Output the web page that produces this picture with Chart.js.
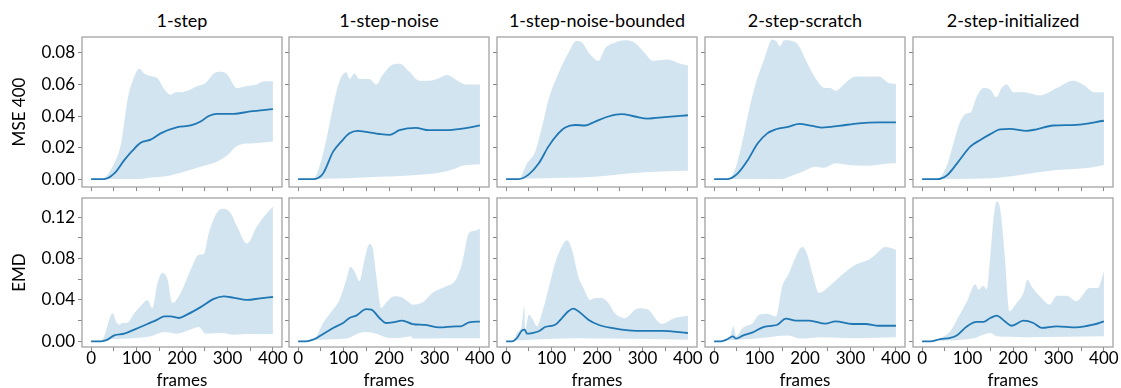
<!DOCTYPE html>
<html>
<head>
<meta charset="utf-8">
<script src="https://cdn.jsdelivr.net/npm/chart.js@4.4.1/dist/chart.umd.min.js"></script>
<style>
  html, body { margin: 0; padding: 0; background: #fff; }
  #fig { position: relative; width: 1121px; height: 388px; overflow: hidden; font-family: Lato, sans-serif; }
  .panel { position: absolute; }
  .title { position: absolute; width: 200px; height: 20px; line-height: 20px; text-align: center; font-size: 18px; color: #000; white-space: nowrap; }
</style>
</head>
<body>
<div id="fig"></div>
<script>
// ---- data (frame, value) ----
const methods = ['1-step', '1-step-noise', '1-step-noise-bounded', '2-step-scratch', '2-step-initialized'];
const metrics = ['MSE 400', 'EMD'];

const xTicks = [0, 50, 100, 150, 200, 250, 300, 350, 400];
const xLabels = [0, 100, 200, 300, 400];
const mseTicks = [0, 0.02, 0.04, 0.06, 0.08];
const mseLabels = [0, 0.02, 0.04, 0.06, 0.08];
const emdTicks = [0, 0.02, 0.04, 0.06, 0.08, 0.10, 0.12];
const emdLabels = [0, 0.04, 0.08, 0.12];

// MSE 400
const mse1stepMean = [[0,0],[29,0],[51,0.0036],[73,0.012],[91,0.018],[109,0.023],[131,0.025],[153,0.029],[190,0.033],[219,0.034],[241,0.0365],[259,0.040],[277,0.0414],[314,0.0414],[350,0.0429],[400,0.0444]];
const mse1stepUpper = [[0,0],[22,0],[51,0.010],[66,0.0227],[80,0.050],[95,0.065],[106,0.070],[117,0.067],[135,0.065],[146,0.064],[161,0.057],[175,0.0535],[186,0.055],[197,0.055],[212,0.056],[234,0.059],[252,0.061],[270,0.067],[285,0.068],[299,0.0665],[321,0.0577],[343,0.059],[365,0.060],[380,0.062],[400,0.062]];
const mse1stepLower = [[0,0],[102,0],[131,0.001],[168,0.002],[204,0.0047],[241,0.0079],[277,0.011],[299,0.015],[325,0.0216],[358,0.0227],[400,0.0238]];

const mseNoiseMean = [[0,0],[33,0],[55,0.0036],[77,0.0174],[95,0.0238],[113,0.029],[131,0.0306],[150,0.030],[179,0.0286],[201,0.028],[223,0.031],[259,0.0325],[288,0.031],[325,0.031],[361,0.032],[400,0.034]];
const mseNoiseUpper = [[0,0],[33,0],[47,0.008],[62,0.025],[77,0.046],[91,0.062],[106,0.0677],[113,0.0635],[124,0.067],[135,0.0635],[157,0.0635],[172,0.060],[186,0.066],[208,0.0726],[223,0.0732],[245,0.068],[266,0.0624],[288,0.0624],[310,0.064],[328,0.066],[347,0.063],[369,0.060],[400,0.060]];
const mseNoiseLower = [[0,0],[106,0.0005],[179,0.0015],[252,0.0025],[310,0.004],[347,0.0068],[361,0.0085],[400,0.0095]];

const mseBoundedMean = [[0,0],[28,0],[50,0.003],[72,0.010],[93,0.0206],[115,0.029],[130,0.0327],[152,0.0343],[174,0.034],[196,0.0365],[225,0.0397],[254,0.0412],[283,0.0397],[312,0.0384],[349,0.0393],[400,0.0405]];
const mseBoundedUpper = [[0,0],[28,0],[46,0.010],[64,0.0174],[79,0.033],[93,0.050],[115,0.067],[137,0.080],[155,0.0875],[166,0.0868],[185,0.079],[203,0.075],[218,0.083],[239,0.0865],[261,0.088],[283,0.0865],[305,0.080],[323,0.075],[356,0.0758],[378,0.0736],[400,0.072]];
const mseBoundedLower = [[0,0],[123,0.0008],[196,0.0015],[269,0.0036],[342,0.0049],[400,0.0053]];

const mseScratchMean = [[0,0],[30,0],[52,0.0036],[74,0.012],[96,0.0227],[117,0.029],[136,0.0316],[165,0.0333],[187,0.035],[216,0.0337],[238,0.0327],[274,0.0337],[318,0.0354],[362,0.036],[400,0.036]];
const mseScratchUpper = [[0,0],[30,0],[48,0.0079],[63,0.025],[77,0.044],[92,0.061],[110,0.0758],[128,0.0885],[136,0.0875],[145,0.0843],[154,0.088],[172,0.0875],[187,0.0843],[201,0.0758],[223,0.064],[242,0.058],[256,0.0577],[267,0.056],[289,0.061],[311,0.065],[340,0.065],[362,0.065],[384,0.061],[400,0.0605]];
const mseScratchLower = [[0,0],[150,0],[165,0.0015],[194,0.0047],[223,0.0079],[242,0.0072],[267,0.010],[296,0.0089],[333,0.0085],[369,0.0095],[400,0.010]];

const mseInitMean = [[0,0],[33,0],[55,0.0025],[77,0.010],[106,0.0206],[128,0.0248],[150,0.0285],[172,0.0316],[193,0.0318],[230,0.0306],[252,0.0316],[288,0.034],[339,0.0344],[400,0.037]];
const mseInitUpper = [[0,0],[33,0],[55,0.009],[69,0.0227],[84,0.0365],[99,0.0418],[106,0.042],[120,0.052],[135,0.0577],[150,0.0567],[164,0.052],[175,0.0577],[186,0.060],[201,0.055],[223,0.055],[259,0.053],[296,0.0577],[332,0.0624],[354,0.060],[380,0.055],[400,0.055]];
const mseInitLower = [[0,0],[150,0.0005],[223,0.003],[296,0.0057],[369,0.0072],[400,0.009]];

// EMD
const emd1stepMean = [[0,0],[22,0],[36,0.0016],[51,0.0058],[73,0.0074],[95,0.0113],[124,0.0167],[146,0.021],[161,0.024],[175,0.024],[193,0.0225],[212,0.026],[241,0.033],[270,0.041],[292,0.0434],[314,0.042],[343,0.040],[372,0.0415],[400,0.0428]];
const emd1stepUpper = [[0,0],[15,0],[29,0.005],[40,0.021],[47,0.027],[55,0.019],[62,0.016],[69,0.0177],[80,0.018],[95,0.027],[109,0.034],[124,0.040],[135,0.032],[146,0.056],[157,0.066],[168,0.060],[179,0.037],[197,0.0467],[219,0.069],[237,0.0837],[248,0.0843],[259,0.1046],[274,0.122],[288,0.128],[307,0.124],[321,0.111],[343,0.0943],[365,0.111],[387,0.124],[400,0.130]];
const emd1stepLower = [[0,0],[44,0.002],[95,0.003],[131,0.0048],[161,0.009],[190,0.0074],[219,0.0113],[237,0.0138],[252,0.0074],[285,0.008],[314,0.0064],[350,0.0071],[400,0.0071]];

const emdNoiseMean = [[0,0],[18,0],[33,0.0016],[47,0.0048],[77,0.0129],[99,0.0177],[113,0.0225],[128,0.0248],[150,0.031],[161,0.0306],[179,0.0225],[193,0.0177],[208,0.0183],[229,0.020],[252,0.0167],[281,0.0158],[310,0.0135],[347,0.0145],[358,0.0145],[376,0.0183],[400,0.019]];
const emdNoiseUpper = [[0,0],[18,0.001],[40,0.0048],[55,0.0177],[77,0.0306],[91,0.040],[106,0.0595],[115,0.0717],[124,0.0676],[135,0.058],[146,0.0788],[157,0.094],[164,0.090],[172,0.063],[183,0.032],[193,0.037],[212,0.0434],[226,0.0428],[241,0.0386],[252,0.0354],[274,0.0376],[296,0.047],[325,0.053],[347,0.0595],[361,0.0756],[376,0.1046],[391,0.107],[400,0.109]];
const emdNoiseLower = [[0,0],[47,0.0016],[106,0.0026],[135,0.008],[150,0.009],[172,0.0074],[201,0.0032],[237,0.004],[248,0.0048],[252,0.0026],[325,0.003],[400,0.003]];

const emdBoundedMean = [[0,0],[13,0],[24,0.0032],[35,0.0106],[41,0.0113],[46,0.0074],[57,0.008],[72,0.0097],[86,0.0138],[108,0.016],[123,0.0225],[137,0.029],[148,0.0315],[159,0.029],[181,0.0209],[203,0.016],[232,0.0129],[269,0.0106],[305,0.010],[342,0.010],[400,0.008]];
const emdBoundedUpper = [[0,0],[13,0],[24,0.008],[35,0.016],[40,0.0338],[42,0.0113],[50,0.0257],[57,0.0225],[68,0.0145],[79,0.0273],[93,0.050],[108,0.0756],[123,0.0917],[134,0.0975],[145,0.0885],[159,0.0627],[170,0.0515],[185,0.040],[196,0.0418],[210,0.0418],[225,0.037],[239,0.0273],[261,0.0225],[291,0.032],[312,0.0306],[342,0.0167],[371,0.0225],[400,0.0248]];
const emdBoundedLower = [[0,0],[86,0.0022],[159,0.003],[232,0.0026],[400,0.0016]];

const emdScratchMean = [[0,0],[15,0],[30,0.0022],[41,0.0048],[48,0.0026],[63,0.0055],[85,0.0087],[107,0.0135],[125,0.015],[139,0.016],[158,0.0219],[180,0.020],[209,0.020],[245,0.017],[267,0.0193],[304,0.0167],[333,0.0167],[362,0.015],[400,0.015]];
const emdScratchUpper = [[0,0],[19,0],[34,0.0032],[43,0.0145],[48,0.0048],[63,0.0129],[85,0.0177],[99,0.0257],[117,0.0267],[136,0.024],[150,0.053],[165,0.066],[180,0.082],[194,0.091],[205,0.0837],[216,0.066],[231,0.0467],[253,0.053],[282,0.0644],[311,0.074],[340,0.0788],[355,0.0837],[377,0.091],[400,0.0885]];
const emdScratchLower = [[0,0],[92,0.0026],[165,0.0055],[187,0.0026],[238,0.004],[311,0.003],[400,0.0039]];

const emdInitMean = [[0,0],[18,0],[40,0.0022],[62,0.0032],[77,0.0058],[99,0.0145],[120,0.0187],[135,0.0187],[150,0.0225],[164,0.0248],[182,0.0193],[197,0.015],[223,0.020],[245,0.0177],[263,0.0129],[296,0.0145],[339,0.0135],[376,0.016],[400,0.0193]];
const emdInitUpper = [[0,0],[18,0],[40,0.003],[62,0.0097],[77,0.021],[99,0.0386],[117,0.055],[124,0.050],[135,0.0537],[142,0.050],[150,0.082],[157,0.1174],[164,0.135],[172,0.127],[182,0.082],[192,0.029],[208,0.037],[223,0.0467],[232,0.0595],[241,0.053],[259,0.0434],[281,0.0354],[296,0.044],[318,0.044],[339,0.0386],[369,0.0515],[387,0.0515],[400,0.0676]];
const emdInitLower = [[0,0],[113,0.003],[150,0.008],[164,0.0048],[223,0.004],[400,0.0048]];

const series = [
  [
    [mse1stepMean, mse1stepLower, mse1stepUpper],
    [mseNoiseMean, mseNoiseLower, mseNoiseUpper],
    [mseBoundedMean, mseBoundedLower, mseBoundedUpper],
    [mseScratchMean, mseScratchLower, mseScratchUpper],
    [mseInitMean, mseInitLower, mseInitUpper]
  ],
  [
    [emd1stepMean, emd1stepLower, emd1stepUpper],
    [emdNoiseMean, emdNoiseLower, emdNoiseUpper],
    [emdBoundedMean, emdBoundedLower, emdBoundedUpper],
    [emdScratchMean, emdScratchLower, emdScratchUpper],
    [emdInitMean, emdInitLower, emdInitUpper]
  ]
];

// ---- layout ----
const colLeft = [82, 289, 497, 705, 913];
const rowTop = [37, 198];
const rowH = [150, 149];
const boxW = 200;
const yRange = [[-0.005, 0.0901], [-0.0055, 0.1384]];
const yTickSets = [[mseTicks, mseLabels], [emdTicks, emdLabels]];

const LINE = '#1f77b4';
const BAND = 'rgba(31,119,180,0.2)';
const TEXT = '#000';
const font = { family: 'Lato', size: 17 };

const boxPlugin = {
  id: 'box',
  afterDraw(chart) {
    const { ctx, chartArea: a } = chart;
    ctx.save();
    ctx.strokeStyle = '#a3a3a3';
    ctx.lineWidth = 1.3;
    ctx.strokeRect(a.left, a.top, a.right - a.left, a.bottom - a.top);
    ctx.restore();
  }
};

const toXY = arr => arr.map(p => ({ x: p[0], y: p[1] }));
const fig = document.getElementById('fig');

methods.forEach((name, c) => {
  const t = document.createElement('div');
  t.className = 'title';
  t.style.left = colLeft[c] + 'px';
  t.style.top = '10px';
  t.textContent = name;
  fig.appendChild(t);
});

for (let r = 0; r < 2; r++) {
  for (let c = 0; c < 5; c++) {
    const YW = c === 0 ? colLeft[0] : 8;
    const PT = 14, PR = 14;
    const XH = r === 0 ? 14 : 44;
    const W = YW + boxW + PR;
    const H = PT + rowH[r] + XH;

    const div = document.createElement('div');
    div.className = 'panel';
    div.style.left = (colLeft[c] - YW) + 'px';
    div.style.top = (rowTop[r] - PT) + 'px';
    const cv = document.createElement('canvas');
    cv.width = W; cv.height = H;
    cv.style.width = W + 'px'; cv.style.height = H + 'px';
    div.appendChild(cv);
    fig.appendChild(div);

    const [mean, lower, upper] = series[r][c];
    const [yTicks, yLabels] = yTickSets[r];

    new Chart(cv.getContext('2d'), {
      type: 'line',
      data: {
        datasets: [
          { data: toXY(mean), borderColor: LINE, borderWidth: 1.8, pointRadius: 0, fill: false,
            cubicInterpolationMode: 'monotone' },
          { data: toXY(lower), borderWidth: 0, borderColor: 'rgba(0,0,0,0)', pointRadius: 0, fill: false,
            cubicInterpolationMode: 'monotone' },
          { data: toXY(upper), borderWidth: 0, borderColor: 'rgba(0,0,0,0)', pointRadius: 0,
            fill: { target: 1 }, backgroundColor: BAND, cubicInterpolationMode: 'monotone' }
        ]
      },
      options: {
        responsive: false,
        animation: false,
        events: [],
        layout: { padding: { top: PT, right: PR, left: 0, bottom: 0 } },
        plugins: { legend: { display: false }, tooltip: { enabled: false } },
        scales: {
          x: {
            type: 'linear', min: -20, max: 420,
            afterBuildTicks: s => { s.ticks = xTicks.map(v => ({ value: v })); },
            afterFit: s => { s.height = XH; },
            grid: { drawOnChartArea: false, drawTicks: true, tickLength: 4, tickColor: '#888', tickWidth: 1 },
            border: { display: false },
            ticks: {
              display: r === 1, font: font, color: TEXT, padding: -3, maxRotation: 0, autoSkip: false,
              callback: v => xLabels.includes(v) ? String(v) : ''
            },
            title: { display: r === 1, text: 'frames', font: font, color: TEXT, padding: { top: 0, bottom: 0 } }
          },
          y: {
            type: 'linear', min: yRange[r][0], max: yRange[r][1],
            afterBuildTicks: s => { s.ticks = yTicks.map(v => ({ value: v })); },
            afterFit: s => { s.width = YW; },
            grid: { drawOnChartArea: false, drawTicks: true, tickLength: 4, tickColor: '#888', tickWidth: 1 },
            border: { display: false },
            ticks: {
              display: c === 0, font: font, color: TEXT, padding: 3, autoSkip: false,
              callback: v => yLabels.some(l => Math.abs(l - v) < 1e-9) ? v.toFixed(2) : ''
            },
            title: { display: c === 0, text: metrics[r], font: font, color: TEXT, padding: { top: 9, bottom: 0 } }
          }
        }
      },
      plugins: [boxPlugin]
    });
  }
}
</script>
</body>
</html>
